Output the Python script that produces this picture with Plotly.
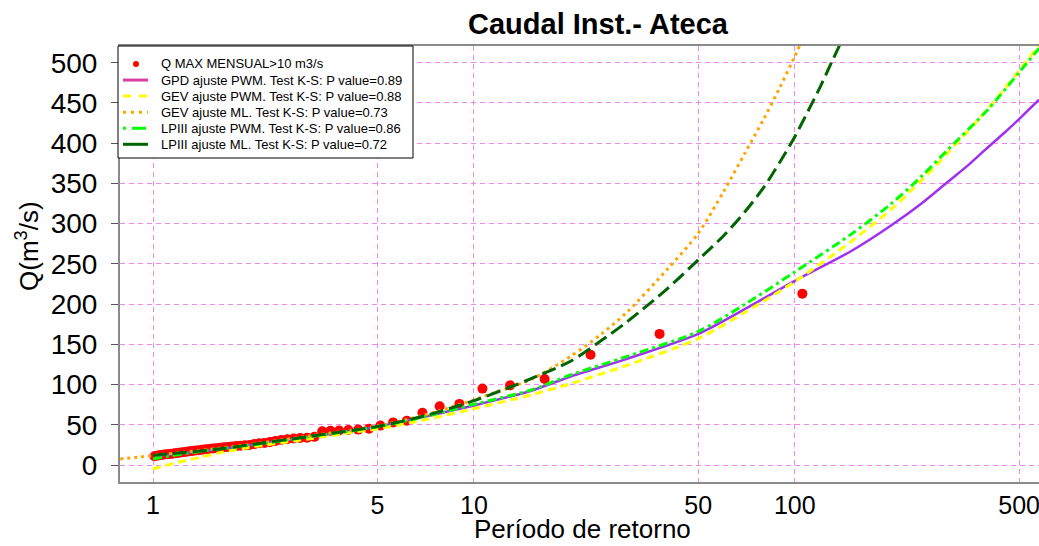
import plotly.graph_objects as go

# ---- observed data (return period, discharge) ----
T_OBS = [105.57, 37.90, 23.09, 16.61, 12.96, 10.63, 9.01, 7.82, 6.91, 6.18,
         5.60, 5.11, 4.707, 4.360, 4.060, 3.800, 3.570, 3.367, 3.185, 3.022,
         2.875, 2.742, 2.621, 2.509, 2.407, 2.313, 2.226, 2.145, 2.070, 2.000,
         1.935, 1.873, 1.816, 1.762, 1.711, 1.663, 1.617, 1.574, 1.533, 1.494,
         1.458, 1.423, 1.389, 1.357, 1.327, 1.298, 1.270, 1.243, 1.217, 1.193,
         1.169, 1.147, 1.125, 1.104, 1.084, 1.064, 1.045, 1.027, 1.010]
Q_OBS = [213, 163, 137, 107, 99, 95, 76, 73, 65, 55,
         53, 49, 45, 44, 43.5, 43, 42.5, 42, 35, 34,
         33.5, 33, 32, 31, 30, 28.5, 27.5, 27, 26, 25,
         24.5, 24, 23.5, 23, 22.5, 22, 21.5, 21, 20.5, 20,
         19.5, 19, 18.5, 18, 17.5, 17, 16.5, 16, 15.5, 15,
         14.5, 14, 13.8, 13.5, 13, 12.5, 12, 11.5, 11]

# ---- fitted curves ----
T_GPD = [1, 1.25, 1.5, 2, 3, 4, 5, 7, 10, 15, 20, 30, 50, 70, 100, 150, 200, 250, 300, 350, 400, 450, 500, 577]
Q_GPD = [11, 15, 18.5, 24.5, 34.5, 41.5, 47.5, 60, 74, 92, 110, 132, 163, 194, 229, 266, 298, 326, 352, 374, 395, 413, 430, 454]

T_GEV_PWM = [1, 1.05, 1.2, 1.4, 1.6, 2, 3, 4, 5, 7, 10, 15, 20, 30, 50, 70, 100, 150, 200, 250, 300, 400, 500, 577]
Q_GEV_PWM = [-5, -2.5, 3.5, 9.5, 15, 22, 32, 39.5, 45, 56, 70, 87, 101, 124, 157, 190, 228, 278, 318, 355, 388, 443, 490, 522]

T_GEV_ML = [0.79, 0.9, 1, 1.25, 1.5, 2, 3, 5, 7, 10, 12, 15, 20, 25, 30, 40, 50, 60, 70, 80, 90, 100, 104]
Q_GEV_ML = [7.6, 9.8, 11.8, 16, 19.5, 25.5, 35.5, 48.5, 62, 81, 92, 106, 135, 163, 190, 243, 288, 340, 388, 430, 470, 508, 523]

T_LP3_PWM = [1, 1.1, 1.25, 1.5, 2, 3, 5, 7, 10, 15, 20, 30, 50, 70, 100, 150, 200, 250, 300, 400, 500, 577]
Q_LP3_PWM = [7.5, 10.5, 14, 18.5, 24.5, 34.5, 47.5, 60, 75.5, 93, 112, 135, 166, 200, 240, 287, 325, 360, 392, 442, 488, 518]

T_LP3_ML = [1, 1.25, 1.5, 2, 3, 5, 7, 10, 13, 15, 20, 25, 30, 40, 50, 60, 70, 80, 90, 100, 110, 120, 130, 138]
Q_LP3_ML = [12, 15.5, 18.5, 25, 35, 48, 61, 80, 97, 107, 129, 155, 178, 219, 255, 285, 315, 345, 377, 408, 440, 470, 500, 522]

X_TICKS = [1, 5, 10, 50, 100, 500]
X_TICKTEXT = ["1", "5", "10", "50", "100", "500"]
Y_TICKS = [0, 50, 100, 150, 200, 250, 300, 350, 400, 450, 500]

LABELS = ["Q MAX MENSUAL>10 m3/s",
          "GPD ajuste PWM. Test K-S: P value=0.89",
          "GEV ajuste PWM. Test K-S: P value=0.88",
          "GEV ajuste ML. Test K-S: P value=0.73",
          "LPIII ajuste PWM. Test K-S: P value=0.86",
          "LPIII ajuste ML. Test K-S: P value=0.72"]

FONT = "Arial, Liberation Sans, sans-serif"
GRID = "#EE88EE"

# plot-area geometry in pixels (for placing legend / titles)
L, R, T, B = 120, 1039, 46, 482


def px(xp):
    return (xp - L) / (R - L)


def py(yp):
    return (B - yp) / (B - T)


fig = go.Figure()

fig.add_trace(go.Scatter(x=T_OBS, y=Q_OBS, mode="markers",
                         marker=dict(color="#FF0000", size=10), showlegend=False))

curves = [
    (T_GPD, Q_GPD, "#A030F0", "solid", 2.5),
    (T_GEV_PWM, Q_GEV_PWM, "#FFFF00", "8px,5px", 3),
    (T_GEV_ML, Q_GEV_ML, "#FFA500", "3px,4px", 3),
    (T_LP3_PWM, Q_LP3_PWM, "#00FF00", "9px,4px,3px,4px", 3),
    (T_LP3_ML, Q_LP3_ML, "#006400", "14px,6px", 3),
]
for tx, qy, col, dash, w in curves:
    fig.add_trace(go.Scatter(x=tx, y=qy, mode="lines",
                             line=dict(color=col, width=w, dash=dash, shape="spline", smoothing=0.8),
                             showlegend=False))

# ---- hand-drawn legend ----
shapes = [dict(type="rect", xref="paper", yref="paper",
               x0=px(118), x1=px(413), y0=py(158), y1=py(46),
               fillcolor="white", line=dict(color="black", width=1), layer="above")]
annotations = []
leg_styles = [("#D83FA8", "solid"), ("#FFFF00", "8px,8px"), ("#FFA500", "3px,5px"),
              ("#00FF00", "3px,6px,14px,4px"), ("#006400", "solid")]
for i, lab in enumerate(LABELS):
    yc = 64 + 16.06 * i
    if i == 0:
        shapes.append(dict(type="circle", xref="paper", yref="paper",
                           x0=px(133), x1=px(139), y0=py(yc + 3), y1=py(yc - 3),
                           fillcolor="#FF0000", line=dict(color="#FF0000", width=0), layer="above"))
    else:
        col, dash = leg_styles[i - 1]
        shapes.append(dict(type="line", xref="paper", yref="paper",
                           x0=px(123), x1=px(148), y0=py(yc), y1=py(yc),
                           line=dict(color=col, width=3, dash=dash), layer="above"))
    annotations.append(dict(text=lab, xref="paper", yref="paper",
                            x=px(159), y=py(yc), xanchor="left", yanchor="middle",
                            showarrow=False,
                            font=dict(family=FONT, size=13, color="black")))

annotations += [
    dict(text="Q(m<sup>3</sup>/s)", xref="paper", yref="paper",
         x=px(27), y=py(246), textangle=-90,
         showarrow=False, xanchor="center", yanchor="middle",
         font=dict(family=FONT, size=26, color="black")),
    dict(text="Período de retorno", xref="paper", yref="paper",
         x=px(582), y=py(529),
         showarrow=False, xanchor="center", yanchor="middle",
         font=dict(family=FONT, size=26, color="black")),
    dict(text="<b>Caudal Inst.- Ateca</b>", xref="paper", yref="paper",
         x=px(598), y=py(24),
         showarrow=False, xanchor="center", yanchor="middle",
         font=dict(family=FONT, size=29, color="black")),
]

fig.update_xaxes(type="log", range=[-0.103, 2.761],
                 tickvals=X_TICKS, ticktext=X_TICKTEXT,
                 showgrid=True, gridcolor=GRID, griddash="5px,4px", gridwidth=1,
                 showline=True, linecolor="#8a8a8a", linewidth=2, mirror=True,
                 ticks="", zeroline=False, automargin=False,
                 ticklabeloverflow="allow",
                 tickfont=dict(family=FONT, size=25, color="black"))
fig.update_yaxes(range=[-21.1, 520.8], tickvals=Y_TICKS,
                 showgrid=True, gridcolor=GRID, griddash="5px,4px", gridwidth=1,
                 showline=True, linecolor="#8a8a8a", linewidth=2, mirror=False,
                 ticks="outside", ticklen=7, tickcolor="#555", tickwidth=1,
                 ticklabelstandoff=8, zeroline=False, automargin=False,
                 tickfont=dict(family=FONT, size=28, color="black"))

fig.update_layout(
    width=1039, height=546,
    margin=dict(l=L, r=1039 - R, t=T, b=546 - B, autoexpand=False),
    paper_bgcolor="white", plot_bgcolor="white",
    showlegend=False,
    shapes=shapes,
    annotations=annotations,
)

fig.write_html("out.html", config={"displayModeBar": False},
               post_script="document.body.style.margin='0';document.body.style.overflow='hidden';")
